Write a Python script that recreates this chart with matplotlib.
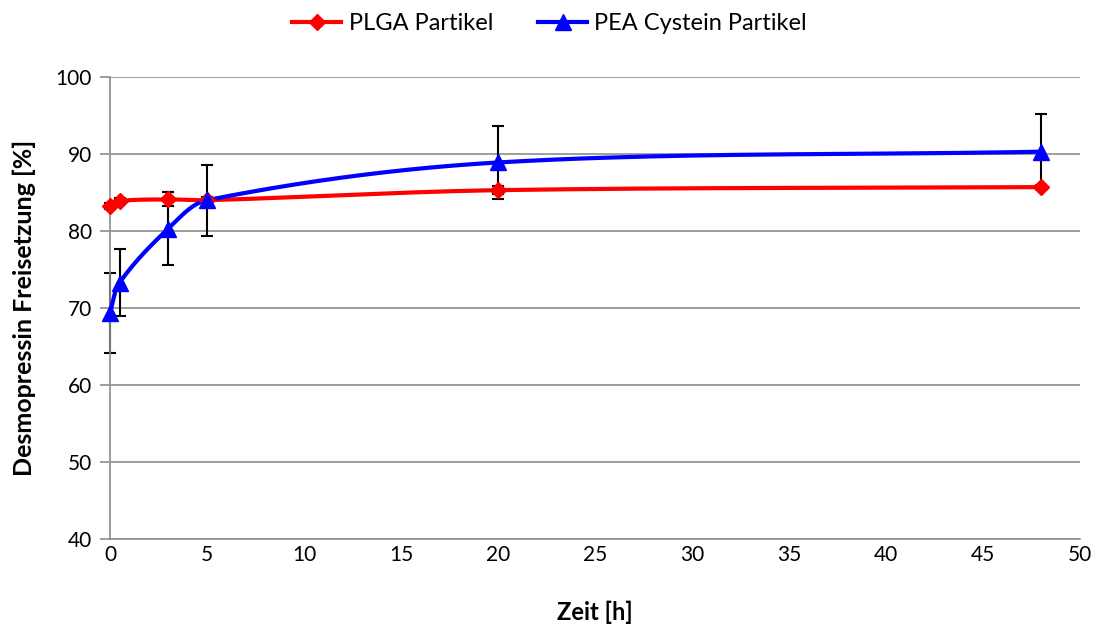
import numpy as np
import matplotlib
matplotlib.use('Agg')
import matplotlib.pyplot as plt
from matplotlib.lines import Line2D

plt.rcParams['font.family'] = ['Lato', 'DejaVu Sans']

zeit = [0, 0.5, 3, 5, 20, 48]
plga = [83.3, 83.9, 84.1, 84.0, 85.3, 85.7]
plga_err = [0.4, 0.4, 0.9, 0.4, 0.5, 0.3]
pea = [69.4, 73.3, 80.3, 84.0, 88.9, 90.3]
pea_err = [5.2, 4.3, 4.7, 4.6, 4.7, 4.9]

X_SCALE = 19.4  # px per hour
Y_SCALE = 7.7   # px per percent


def smooth(xs, ys, n=40):
    # bezier smoothing in screen-like coordinates, tangents weighted by chord length
    p = np.column_stack([np.array(xs) * X_SCALE, np.array(ys) * Y_SCALE])
    d = np.linalg.norm(np.diff(p, axis=0), axis=1)
    m = len(p)
    tang = np.zeros_like(p)
    for i in range(m):
        if i == 0:
            tang[i] = (p[1] - p[0]) / d[0]
        elif i == m - 1:
            tang[i] = (p[-1] - p[-2]) / d[-1]
        else:
            tang[i] = (p[i + 1] - p[i - 1]) / (d[i - 1] + d[i])
    out = [p[0]]
    t = np.linspace(0, 1, n)[1:, None]
    for i in range(m - 1):
        c1 = p[i] + tang[i] * d[i] / 3
        c2 = p[i + 1] - tang[i + 1] * d[i] / 3
        seg = ((1 - t) ** 3 * p[i] + 3 * (1 - t) ** 2 * t * c1
               + 3 * (1 - t) * t ** 2 * c2 + t ** 3 * p[i + 1])
        out.extend(seg)
    out = np.array(out)
    return out[:, 0] / X_SCALE, out[:, 1] / Y_SCALE


fig = plt.figure(figsize=(10.99, 6.26), dpi=100)
ax = fig.add_axes([0.1001, 0.139, 0.8826, 0.738])

red = '#ff0000'
blue = '#0000ff'

for ys, err, col, mk, ms in [(plga, plga_err, red, 'D', 8), (pea, pea_err, blue, '^', 11)]:
    sx, sy = smooth(zeit, ys)
    ax.plot(sx, sy, color=col, lw=3, zorder=3, clip_on=False)
    eb = ax.errorbar(zeit, ys, yerr=err, fmt='none', ecolor='black', elinewidth=1.5,
                     capsize=4, capthick=1.5, zorder=2)
    for art in eb.lines[1] + eb.lines[2]:
        art.set_clip_on(False)
    ax.plot(zeit, ys, ls='None', marker=mk, ms=ms, color=col, zorder=4, clip_on=False)

ax.set_xlim(0, 50)
ax.set_ylim(40, 100)
ax.set_xticks(range(0, 51, 5))
ax.set_yticks(range(40, 101, 10))
ax.set_xticks([0], minor=True)
ax.grid(axis='y', color='#8c8c8c', lw=1.2)
ax.set_axisbelow(True)
for side in ['top', 'right']:
    ax.spines[side].set_visible(False)
for side in ['left', 'bottom']:
    ax.spines[side].set_color('#8c8c8c')
    ax.spines[side].set_linewidth(1.2)
ax.tick_params(axis='both', colors='#8c8c8c', labelcolor='black', labelsize=15,
               length=7, width=1.2)
ax.tick_params(axis='x', which='major', length=0, pad=4)
ax.tick_params(axis='x', which='minor', length=7, width=1.2, colors='#8c8c8c')
ax.tick_params(axis='y', pad=6)

ax.set_xlabel('Zeit [h]', fontsize=17, fontweight='bold', labelpad=26)
ax.set_ylabel('Desmopressin Freisetzung [%]', fontsize=18, fontweight='bold', labelpad=14)

handles = [Line2D([], [], color=red, lw=3, marker='D', ms=8),
           Line2D([], [], color=blue, lw=3, marker='^', ms=11)]
fig.legend(handles, ['PLGA Partikel', 'PEA Cystein Partikel'], loc='upper center',
           bbox_to_anchor=(0.5, 1.013), ncol=2, frameon=False, fontsize=17,
           handlelength=2.1, handletextpad=0.3, columnspacing=1.9)

fig.savefig('out.png', dpi=100)
